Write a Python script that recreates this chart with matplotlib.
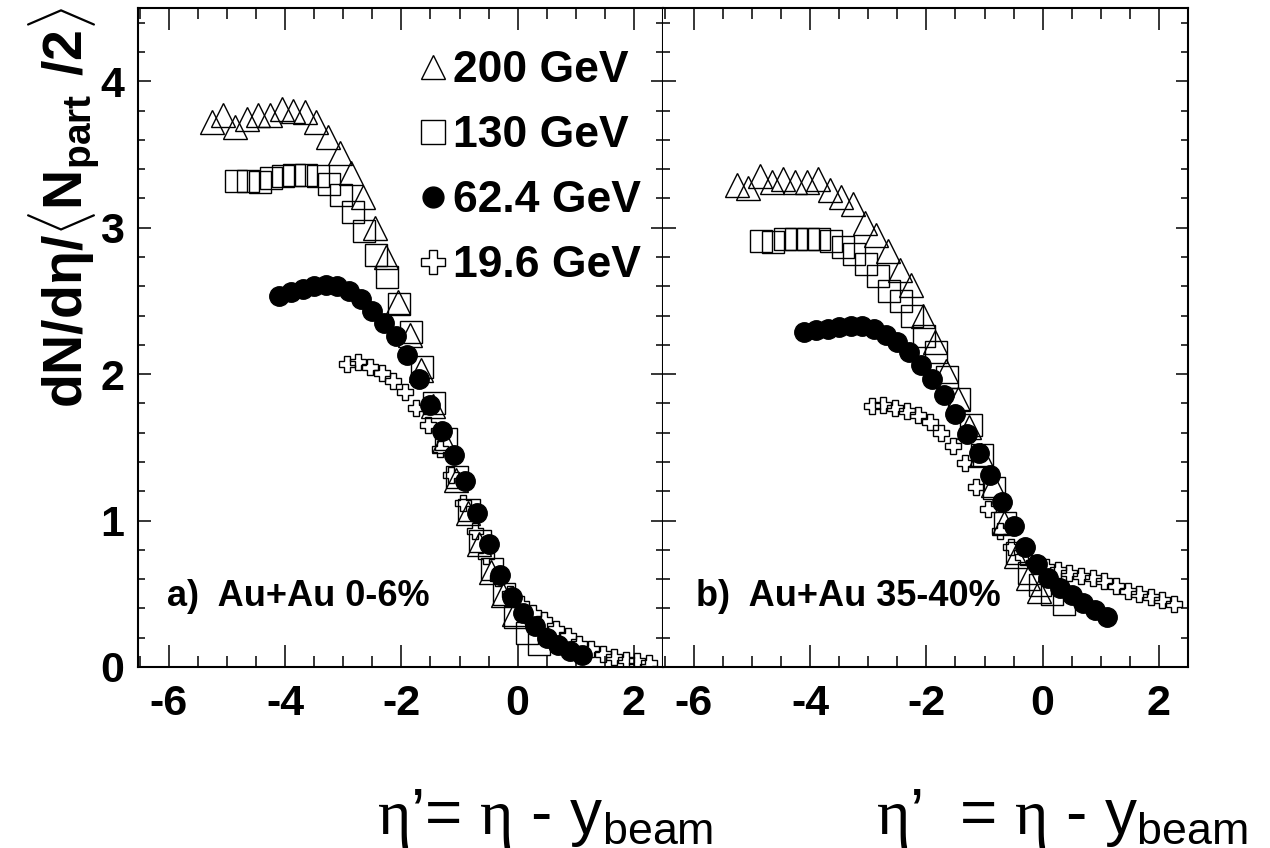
import numpy as np
import matplotlib
matplotlib.use('Agg')
import matplotlib.pyplot as plt
from matplotlib.lines import Line2D
from matplotlib.ticker import MultipleLocator

plt.rcParams['font.family'] = ['Liberation Sans', 'DejaVu Sans']
plt.rcParams['mathtext.fontset'] = 'custom'
plt.rcParams['mathtext.rm'] = 'Liberation Sans'
plt.rcParams['mathtext.bf'] = 'Liberation Sans:bold'
plt.rcParams['mathtext.sf'] = 'Liberation Serif'
plt.rcParams['mathtext.default'] = 'regular'
plt.rcParams['axes.unicode_minus'] = False

# eta' bins for each energy
eta200 = [-5.26, -5.06, -4.86, -4.66, -4.46, -4.26, -4.06, -3.86, -3.66, -3.46, -3.26, -3.06, -2.86,
          -2.66, -2.46, -2.26, -2.06, -1.86, -1.66, -1.46, -1.26, -1.06, -0.86, -0.66, -0.46, -0.26, -0.06]
eta130 = [-4.84, -4.64, -4.44, -4.24, -4.04, -3.84, -3.64, -3.44, -3.24, -3.04, -2.84, -2.64, -2.44,
          -2.24, -2.04, -1.84, -1.64, -1.44, -1.24, -1.04, -0.84, -0.64, -0.44, -0.24, -0.04, 0.16, 0.36]
eta62 = [-4.1, -3.9, -3.7, -3.5, -3.3, -3.1, -2.9, -2.7, -2.5, -2.3, -2.1, -1.9, -1.7,
         -1.5, -1.3, -1.1, -0.9, -0.7, -0.5, -0.3, -0.1, 0.1, 0.3, 0.5, 0.7, 0.9, 1.1]
eta19 = [-2.94, -2.74, -2.54, -2.34, -2.14, -1.94, -1.74, -1.54, -1.34, -1.14, -0.94, -0.74, -0.54,
         -0.34, -0.14, 0.06, 0.26, 0.46, 0.66, 0.86, 1.06, 1.26, 1.46, 1.66, 1.86, 2.06, 2.26]

# a) Au+Au 0-6%
dn200_a = [3.72, 3.77, 3.69, 3.74, 3.77, 3.77, 3.81, 3.80, 3.79, 3.72, 3.62, 3.51, 3.37,
           3.21, 3.00, 2.80, 2.49, 2.27, 2.03, 1.78, 1.54, 1.28, 1.05, 0.84, 0.65, 0.49, 0.36]
dn130_a = [3.32, 3.32, 3.31, 3.34, 3.35, 3.36, 3.36, 3.35, 3.30, 3.22, 3.11, 2.98, 2.81,
           2.66, 2.48, 2.29, 2.05, 1.80, 1.56, 1.30, 1.07, 0.86, 0.67, 0.50, 0.34, 0.23, 0.16]
dn62_a = [2.53, 2.56, 2.58, 2.60, 2.61, 2.60, 2.57, 2.51, 2.43, 2.35, 2.26, 2.13, 1.97,
          1.79, 1.61, 1.45, 1.27, 1.05, 0.84, 0.63, 0.48, 0.37, 0.28, 0.20, 0.15, 0.11, 0.08]
dn19_a = [2.07, 2.08, 2.05, 2.01, 1.95, 1.88, 1.77, 1.65, 1.49, 1.31, 1.12, 0.93, 0.76,
          0.61, 0.50, 0.43, 0.37, 0.32, 0.26, 0.21, 0.16, 0.12, 0.09, 0.07, 0.05, 0.04, 0.03]

# b) Au+Au 35-40%
dn200_b = [3.29, 3.27, 3.35, 3.31, 3.33, 3.31, 3.31, 3.33, 3.26, 3.21, 3.16, 3.03, 2.95,
           2.84, 2.71, 2.61, 2.40, 2.22, 2.02, 1.83, 1.64, 1.45, 1.24, 0.98, 0.76, 0.61, 0.52]
dn130_b = [2.91, 2.90, 2.92, 2.92, 2.92, 2.92, 2.91, 2.87, 2.82, 2.75, 2.67, 2.57, 2.50,
           2.40, 2.26, 2.15, 1.98, 1.83, 1.65, 1.45, 1.22, 0.98, 0.78, 0.64, 0.56, 0.50, 0.43]
dn62_b = [2.29, 2.30, 2.31, 2.32, 2.33, 2.33, 2.31, 2.27, 2.22, 2.15, 2.06, 1.97, 1.86,
          1.73, 1.59, 1.46, 1.31, 1.13, 0.96, 0.82, 0.70, 0.61, 0.54, 0.49, 0.44, 0.39, 0.34]
dn19_b = [1.78, 1.79, 1.77, 1.75, 1.72, 1.67, 1.60, 1.51, 1.39, 1.23, 1.08, 0.93, 0.82,
          0.75, 0.71, 0.68, 0.66, 0.64, 0.62, 0.61, 0.59, 0.55, 0.52, 0.50, 0.48, 0.46, 0.43]

labels = ['200 GeV', '130 GeV', '62.4 GeV', '19.6 GeV']

W, H = 1270, 848
fig = plt.figure(figsize=(W / 100, H / 100), dpi=100)


def box(x0, x1, y0, y1):
    return [x0 / W, 1 - y1 / H, (x1 - x0) / W, (y1 - y0) / H]


axa = fig.add_axes(box(138, 663, 8, 667))
axb = fig.add_axes(box(663, 1188, 8, 667))

open_kw = dict(ls='none', mfc='none', mec='black', mew=1.0)


def draw(ax, d200, d130, d62, d19):
    ax.plot(eta130, d130, marker='s', ms=16.5, **open_kw)
    ax.plot(eta200, d200, marker='^', ms=17, **open_kw)
    ax.plot(eta19, d19, marker='P', ms=12, **open_kw)
    ax.plot(eta62, d62, ls='none', marker='o', ms=14, color='black')


draw(axa, dn200_a, dn130_a, dn62_a, dn19_a)
draw(axb, dn200_b, dn130_b, dn62_b, dn19_b)

for ax in (axa, axb):
    ax.set_xlim(-6.53, 2.5)
    ax.set_ylim(0, 4.5)
    ax.xaxis.set_major_locator(MultipleLocator(2))
    ax.xaxis.set_minor_locator(MultipleLocator(0.5))
    ax.yaxis.set_major_locator(MultipleLocator(1))
    ax.yaxis.set_minor_locator(MultipleLocator(0.2))
    ax.tick_params(which='both', direction='in', top=True, right=True, width=1.1)
    ax.tick_params(axis='x', which='major', length=16, pad=12, labelsize=31)
    ax.tick_params(axis='x', which='minor', length=8)
    ax.tick_params(axis='y', which='major', length=9, pad=10, labelsize=31)
    ax.tick_params(axis='y', which='minor', length=5)
    for sp in ax.spines.values():
        sp.set_linewidth(1.5)
    for lab in ax.get_xticklabels() + ax.get_yticklabels():
        lab.set_fontweight('bold')
axb.tick_params(labelleft=False)
axb.spines['left'].set_visible(False)

handles = [Line2D([], [], marker='^', ms=17, **open_kw),
           Line2D([], [], marker='s', ms=17, **open_kw),
           Line2D([], [], ls='none', marker='o', ms=15, color='black'),
           Line2D([], [], marker='P', ms=17, **open_kw)]
axa.legend(handles, labels, loc='upper left', bbox_to_anchor=(0.537, 0.936), frameon=False,
           prop={'size': 32, 'weight': 'bold'}, handlelength=0.6, handletextpad=0.15,
           labelspacing=0.54, borderpad=0, borderaxespad=0, numpoints=1)

axa.text(-6.03, 0.48, 'a)  Au+Au 0-6%', fontsize=26, fontweight='bold', ha='left', va='center')
axb.text(-5.97, 0.48, 'b)  Au+Au 35-40%', fontsize=26, fontweight='bold', ha='left', va='center')

fig.text(64 / W, 1 - 207 / H, r'$\mathbf{dN/d\eta/\langle N_{part}\ /2\rangle}$',
         rotation=90, fontsize=40, ha='center', va='center')

fig.text(545 / W, 1 - 818 / H, r'$\mathsf{\eta}$’= $\mathsf{\eta}$ - y$_{\mathrm{beam}}$',
         fontsize=46, ha='center', va='center')
fig.text(1062 / W, 1 - 818 / H, r'$\mathsf{\eta}$’  = $\mathsf{\eta}$ - y$_{\mathrm{beam}}$',
         fontsize=46, ha='center', va='center')

fig.savefig('out.png', dpi=100)
